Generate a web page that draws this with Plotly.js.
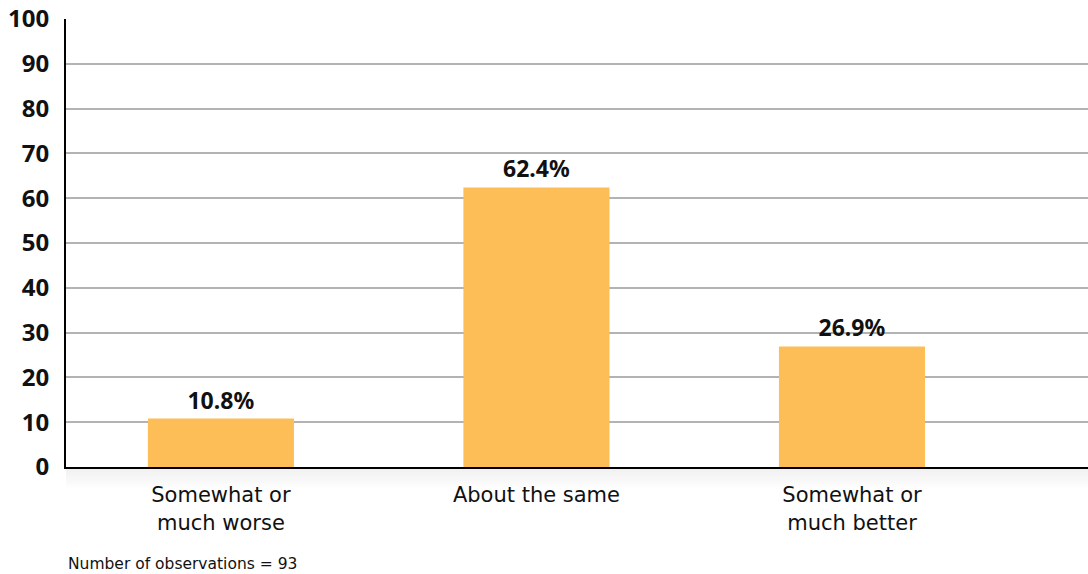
<!DOCTYPE html>
<html>
<head>
<meta charset="utf-8">
<script src="https://cdn.plot.ly/plotly-3.0.1.min.js"></script>
<style>html,body{margin:0;padding:0;background:#fff;}#chart{width:1088px;height:574px;}</style>
</head>
<body>
<div id="chart"></div>
<script>
const categories = ["Somewhat or<br>much worse", "About the same", "Somewhat or<br>much better"];
const values = [10.8, 62.4, 26.9];
const valueLabels = ["10.8%", "62.4%", "26.9%"];
const yTicks = [0, 10, 20, 30, 40, 50, 60, 70, 80, 90, 100];
const note = "Number of observations = 93";

const boldFont = "'Noto Sans', 'Open Sans', sans-serif";
const textFont = "'DejaVu Sans', 'Noto Sans', sans-serif";

const shadowShapes = [];
for (let i = 0; i < 8; i++) {
  shadowShapes.push({
    type: "rect", xref: "paper", yref: "paper",
    x0: 0, x1: 1, y0: -(i + 1) * 0.006, y1: -i * 0.006,
    fillcolor: "rgba(0,0,0," + (0.06 * (1 - i / 8)).toFixed(3) + ")",
    line: { width: 0 }, layer: "below"
  });
}

const trace = {
  type: "bar",
  x: categories,
  y: values,
  text: valueLabels,
  textposition: "outside",
  textfont: { family: boldFont, size: 23, color: "#111", weight: "bold" },
  cliponaxis: false,
  marker: { color: "#FDBE57", line: { width: 0 } },
  width: 0.463,
  hoverinfo: "none"
};

const layout = {
  width: 1088, height: 574,
  margin: { l: 66, r: 0, t: 19, b: 107 },
  paper_bgcolor: "#fff", plot_bgcolor: "#fff",
  showlegend: false,
  font: { family: textFont, color: "#111" },
  xaxis: {
    range: [-0.491, 2.748],
    showline: true, linecolor: "#000", linewidth: 2,
    showgrid: false, zeroline: false,
    ticks: "", tickfont: { family: textFont, size: 21, color: "#111" },
    ticklabelstandoff: 8,
    fixedrange: true
  },
  yaxis: {
    range: [0, 100],
    tickvals: yTicks,
    ticktext: yTicks.map(String),
    showline: true, linecolor: "#000", linewidth: 2,
    showgrid: true, gridcolor: "#b3b3b3", gridwidth: 2,
    zeroline: false,
    ticks: "", tickfont: { family: boldFont, size: 24, color: "#111", weight: "bold" },
    ticklabelstandoff: 10,
    fixedrange: true
  },
  shapes: shadowShapes,
  annotations: [{
    text: note, xref: "paper", yref: "paper",
    x: 0, y: -0.217, xanchor: "left", yanchor: "middle",
    showarrow: false, font: { family: textFont, size: 15.5, color: "#111" }
  }]
};

Plotly.newPlot("chart", [trace], layout, { displayModeBar: false, staticPlot: true });
</script>
</body>
</html>
